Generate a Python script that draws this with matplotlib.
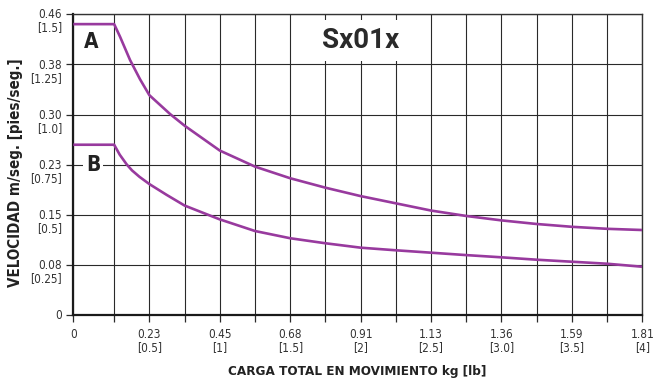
import matplotlib
matplotlib.use("Agg")
import matplotlib.pyplot as plt
from matplotlib.transforms import ScaledTranslation

# ---- data (x in lb, y in ft/s) ----
X_MIN = -0.04
x_a = [X_MIN, 0.25, 0.292, 0.363, 0.434, 0.5, 0.647, 0.75, 1.0, 1.25, 1.5, 1.75, 2.0, 2.25, 2.5, 2.75, 3.0, 3.25, 3.5, 3.75, 4.0]
y_a = [1.451, 1.451, 1.388, 1.272, 1.176, 1.097, 1.003, 0.945, 0.821, 0.741, 0.683, 0.636, 0.594, 0.558, 0.522, 0.495, 0.473, 0.455, 0.441, 0.431, 0.425]
x_b = [X_MIN, 0.25, 0.29, 0.339, 0.377, 0.43, 0.5, 0.623, 0.75, 0.92, 1.0, 1.25, 1.5, 1.75, 2.0, 2.25, 2.5, 2.75, 3.0, 3.25, 3.5, 3.75, 4.0]
y_b = [0.85, 0.85, 0.80, 0.752, 0.722, 0.69, 0.654, 0.60, 0.547, 0.50, 0.478, 0.42, 0.384, 0.359, 0.337, 0.324, 0.312, 0.30, 0.289, 0.277, 0.267, 0.257, 0.242]

x_ticks = [X_MIN, 0.25, 0.5, 0.75, 1.0, 1.25, 1.5, 1.75, 2.0, 2.25, 2.5, 2.75, 3.0, 3.25, 3.5, 3.75, 4.0]
x_labels = ["0", "", "0.23\n[0.5]", "", "0.45\n[1]", "", "0.68\n[1.5]", "", "0.91\n[2]", "",
            "1.13\n[2.5]", "", "1.36\n[3.0]", "", "1.59\n[3.5]", "", "1.81\n[4]"]
y_ticks = [0, 0.25, 0.5, 0.75, 1.0, 1.25, 1.5]
y_labels = ["0", "0.08\n[0.25]", "0.15\n[0.5]", "0.23\n[0.75]", "0.30\n[1.0]", "0.38\n[1.25]", "0.46\n[1.5]"]

title = "Sx01x"
xlabel = "CARGA TOTAL EN MOVIMIENTO kg [lb]"
ylabel = "VELOCIDAD m/seg. [pies/seg.]"

FAM = ["DejaVu Sans"]
PURPLE = "#983a9e"
GRID = "#2a2a2a"
TXT = "#333333"

fig = plt.figure(figsize=(6.53, 3.80), dpi=100)
ax = fig.add_axes([73.3/653, 1-315.3/380, (642.3-73.3)/653, (315.3-14.3)/380])

ax.set_xlim(X_MIN, 4.0)
ax.set_ylim(0, 1.5)
ax.set_xticks(x_ticks)
ax.set_xticklabels(x_labels, family=FAM, fontstretch="condensed", fontsize=8.5, color=TXT, linespacing=1.0)
ax.set_yticks(y_ticks)
ax.set_yticklabels(y_labels, family=FAM, fontstretch="condensed", fontsize=8.5, color=TXT, linespacing=1.0, ha="right")
ax.grid(True, color=GRID, linewidth=0.8)
ax.tick_params(axis="both", length=5, width=0.9, color=GRID, pad=3)
ax.tick_params(axis="x", pad=4)

for lbl in ax.get_yticklabels():
    lbl.set_va("top")
    lbl.set_transform(lbl.get_transform() + ScaledTranslation(0, 4.2/72, fig.dpi_scale_trans))

for s in ["left", "bottom"]:
    ax.spines[s].set_linewidth(1.6)
    ax.spines[s].set_color("#1a1a1a")
for s in ["top", "right"]:
    ax.spines[s].set_linewidth(1.0)
    ax.spines[s].set_color("#333333")

ax.plot(x_a, y_a, color=PURPLE, linewidth=1.9, solid_capstyle="butt", zorder=3)
ax.plot(x_b, y_b, color=PURPLE, linewidth=1.9, solid_capstyle="butt", zorder=3)

ax.text(0.09, 1.362, "A", family=FAM, fontstretch="condensed", fontsize=15, fontweight="bold", color="#222222",
        ha="center", va="center", zorder=4)
ax.text(0.10, 0.75, "B", family=FAM, fontstretch="condensed", fontsize=15, fontweight="bold", color="#222222",
        ha="center", va="center", zorder=4,
        bbox=dict(boxstyle="square,pad=0.12", facecolor="white", edgecolor="none"))
ax.text(2.0, 1.368, title, family=["Roboto", "DejaVu Sans"], fontsize=20, fontweight="bold",
        color="#2a2a2a", ha="center", va="center", zorder=4,
        bbox=dict(boxstyle="square,pad=0.25", facecolor="white", edgecolor="none"))

fig.text(357/653, 1-371/380, xlabel, family=FAM, fontstretch="condensed", fontsize=9.6, fontweight="bold",
         color="#222222", ha="center", va="center")
fig.text(16/653, 1-173/380, ylabel, family=FAM, fontstretch="condensed", fontsize=10.8, fontweight="bold",
         color="#222222", ha="center", va="center", rotation=90)

fig.savefig("out.png", dpi=100)
